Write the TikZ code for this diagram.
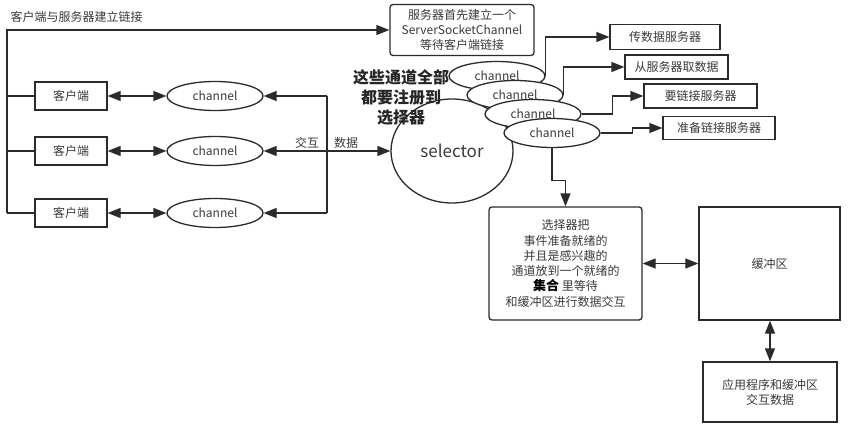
\documentclass[tikz,border=0pt]{standalone}
\usepackage{fontspec}
\setmainfont{Noto Sans CJK SC}
\usetikzlibrary{arrows.meta,shapes.geometric}
\definecolor{ln}{HTML}{2B2B2B}
\definecolor{tx}{HTML}{3A3A3A}
\begin{document}
\begin{tikzpicture}[x=1pt,y=-1pt,line width=1.1pt,
  >={Triangle[length=13pt,width=10pt]},
  every node/.style={text=tx,font=\fontsize{12}{15}\selectfont,inner sep=0pt},
  conn/.style={draw=ln,line width=1.3pt},
  box/.style={draw=ln,line width=1.3pt,align=center},
  rbox/.style={box,rounded corners=3pt},
  chan/.style={draw=ln,line width=1.3pt,ellipse,fill=white,minimum width=96pt,minimum height=29pt}]
\useasboundingbox (0,0) rectangle (858,433);

% left side
\node[anchor=west] (lbl) at (10,17) {客户端与服务器建立链接};
\node[rbox,minimum width=144pt,minimum height=51pt] (srv) at (462,30) {服务器首先建立一个\\ServerSocketChannel\\等待客户端链接};
\node[box,minimum width=72pt,minimum height=28pt] (c1) at (71,96) {客户端};
\node[box,minimum width=72pt,minimum height=28pt] (c2) at (71,151) {客户端};
\node[box,minimum width=72pt,minimum height=28pt] (c3) at (71,213) {客户端};
\node[chan] (h1) at (215,96) {channel};
\node[chan] (h2) at (215,151) {channel};
\node[chan] (h3) at (215,213) {channel};
\coordinate (lt) at (7,30);
\coordinate (lb) at (7,213);
\coordinate (vt) at (327,96);
\coordinate (vb) at (327,213);
\draw[conn,->] (lb) -- (lt) -- (srv.west);
\draw[conn] (lt |- c1) -- (c1.west);
\draw[conn] (lt |- c2) -- (c2.west);
\draw[conn] (lb) -- (c3.west);
\draw[conn,<->] (c1.east) -- (h1.west);
\draw[conn,<->] (c2.east) -- (h2.west);
\draw[conn,<->] (c3.east) -- (h3.west);
\draw[conn,->] (vt) -- (h1.east);
\draw[conn,->] (vb) -- (h3.east);
\draw[conn] (vt) -- (vb);

% selector
\node[draw=ln,line width=1.3pt,ellipse,minimum width=122pt,minimum height=104pt,fill=white,font=\fontsize{17}{20}\selectfont] (sel) at (452,151) {selector};
\draw[conn,<->] (h2.east) -- (sel.west);
\node (jh) at (307,143) {交互};
\node (sj) at (346,143) {数据};

% stacked channels
\node[chan] (e1) at (497,76) {channel};
\node[chan] (e2) at (515,95) {channel};
\node[chan] (e3) at (533,114) {channel};
\node[chan] (e4) at (552,133) {channel};

\node[align=center,font=\fontsize{16}{20}\selectfont\bfseries,text=black!85] (reg) at (401,97) {这些通道全部\\都要注册到\\选择器};

% outputs
\node[box,minimum width=110pt,minimum height=25pt] (oa) at (665,37) {传数据服务器};
\node[box,minimum width=103pt,minimum height=24pt] (ob) at (676.5,67) {从服务器取数据};
\node[box,minimum width=113pt,minimum height=24pt] (oc) at (700.5,96) {要链接服务器};
\node[box,minimum width=112pt,minimum height=23pt] (od) at (719,128) {准备链接服务器};
\draw[conn,->] (e1.east) |- (oa.west);
\draw[conn,->] (e2.east) |- (ob.west);
\draw[conn,->] (e3.east) -- ++(31,0) |- (oc.west);
\draw[conn,->] (e4.east) -- ++(32,0) |- (od.west);

% bottom right
\node[rbox,minimum width=153pt,minimum height=113pt,font=\fontsize{12}{15.3}\selectfont] (sb) at (565.5,263.5) {选择器把\\事件准备就绪的\\并且是感兴趣的\\通道放到一个就绪的\\{\fontsize{13}{15.3}\selectfont\bfseries\color{black}集合} 里等待\\和缓冲区进行数据交互};
\node[box,minimum width=141pt,minimum height=113pt] (buf) at (769.5,263.5) {缓冲区};
\node[box,minimum width=134pt,minimum height=60pt] (app) at (770,392) {应用程序和缓冲区\\交互数据};
\draw[conn,->] (e4.south) -- ++(0,32) -| (sb.north);
\draw[conn,<->] (sb.east) -- (buf.west);
\draw[conn,<->] (buf.south -| app.north) -- (app.north);
\end{tikzpicture}
\end{document}
